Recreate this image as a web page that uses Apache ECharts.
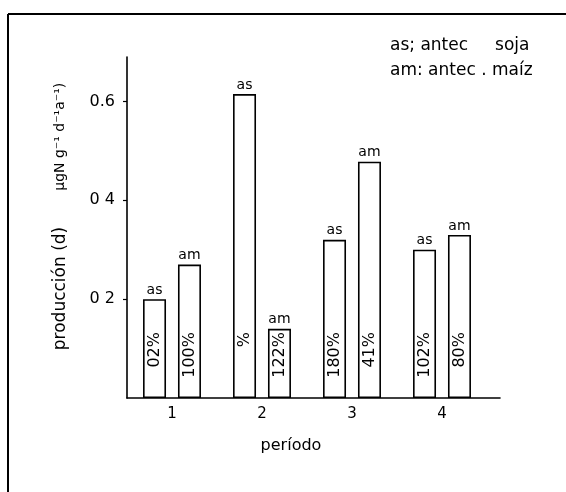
<!DOCTYPE html>
<html>
<head>
<meta charset="utf-8">
<script src="https://cdn.jsdelivr.net/npm/echarts@6/dist/echarts.min.js"></script>
<style>
html,body{margin:0;padding:0;background:#fff;}
#c{width:566px;height:492px;}
</style>
</head>
<body>
<div id="c"></div>
<script>
const categories = ['1', '2', '3', '4'];
const asValues = [0.20, 0.615, 0.32, 0.30];
const amValues = [0.27, 0.14, 0.478, 0.33];
const asPctLabels = ['02%', '%', '180%', '102%'];
const amPctLabels = ['100%', '122%', '41%', '80%'];
const asTag = 'as';
const amTag = 'am';
const yTickValues = [0.2, 0.4, 0.6];
const yTickLabels = ['0 2', '0 4', '0.6'];
const legendLines = ['as; antec     soja', 'am: antec . maíz'];
const xTitle = 'período';
const yTitle = 'producción (d)';
const yUnit = 'µgN g⁻¹ d⁻¹a⁻¹)';

const FONT = 'DejaVu Sans';
const chart = echarts.init(document.getElementById('c'), null, {renderer: 'canvas'});

function barSeries(name, values, pctLabels, stack) {
  return {
    name: name, type: 'bar', stack: stack, xAxisIndex: 0, yAxisIndex: 0,
    barWidth: 23, barGap: '52%',
    data: values,
    itemStyle: {color: '#fff', borderColor: '#000', borderWidth: 1.6},
    label: {
      show: true, position: 'insideBottom', distance: 66, rotate: 90,
      align: 'right', verticalAlign: 'middle',
      formatter: p => pctLabels[p.dataIndex],
      fontFamily: FONT, fontSize: 16, color: '#000'
    },
    silent: true
  };
}
function tagSeries(name, values, tag, stack) {
  return {
    name: name + '-tag', type: 'bar', stack: stack, xAxisIndex: 0, yAxisIndex: 0,
    barWidth: 23, barGap: '52%',
    data: values.map(() => 0),
    itemStyle: {color: 'rgba(0,0,0,0)', borderWidth: 0},
    label: {
      show: true, position: 'top', distance: 2,
      formatter: () => tag,
      fontFamily: FONT, fontSize: 14, color: '#000'
    },
    silent: true
  };
}

const option = {
  animation: false,
  backgroundColor: '#fff',
  textStyle: {fontFamily: FONT, color: '#000'},
  title: {
    text: legendLines.join('\n'),
    left: 385, top: 28,
    textStyle: {fontFamily: FONT, fontSize: 17, fontWeight: 'normal', color: '#000', lineHeight: 25}
  },
  grid: [
    {left: 127, top: 57, width: 360, bottom: 94},
    {left: 127, top: 57, width: 373, bottom: 94}
  ],
  xAxis: [
    {
      type: 'category', gridIndex: 0, data: categories,
      axisLine: {show: false},
      axisTick: {show: false},
      axisLabel: {fontFamily: FONT, fontSize: 15, color: '#000', margin: 9},
      name: xTitle, nameLocation: 'middle', nameGap: 40,
      nameTextStyle: {fontFamily: FONT, fontSize: 16, color: '#000', padding: [0, 32, 0, 0]}
    },
    {
      type: 'value', gridIndex: 1, min: 0, max: 1,
      axisLine: {show: true, lineStyle: {color: '#000', width: 1.6}},
      axisTick: {show: false}, axisLabel: {show: false}, splitLine: {show: false}
    }
  ],
  yAxis: [
    {
      type: 'value', gridIndex: 0, min: 0, max: 0.69, interval: 0.2,
      axisLine: {show: true, onZero: false, lineStyle: {color: '#000', width: 1.6}},
      axisTick: {show: true, length: 4, customValues: yTickValues, lineStyle: {color: '#000', width: 1.2}},
      axisLabel: {
        fontFamily: FONT, fontSize: 16, color: '#000', margin: 12,
        customValues: yTickValues,
        formatter: v => {
          const i = yTickValues.findIndex(t => Math.abs(t - v) < 1e-9);
          return i >= 0 ? yTickLabels[i] : '';
        }
      },
      splitLine: {show: false},
      name: '{a|' + yTitle + '}{b|' + yUnit + '}',
      nameLocation: 'middle', nameRotate: 90, nameGap: 58,
      nameTextStyle: {
        padding: [0, 0, 0, 22],
        rich: {
          a: {fontFamily: FONT, fontSize: 17, color: '#000'},
          b: {fontFamily: FONT, fontSize: 14, color: '#000', padding: [0, 0, 0, 36]}
        }
      }
    },
    {
      type: 'value', gridIndex: 1, show: false, min: 0, max: 1
    }
  ],
  graphic: [
    {type: 'line', shape: {x1: 8, y1: 14, x2: 566, y2: 14}, style: {stroke: '#000', lineWidth: 2}, silent: true},
    {type: 'line', shape: {x1: 8, y1: 14, x2: 8, y2: 492}, style: {stroke: '#000', lineWidth: 2}, silent: true}
  ],
  series: [
    barSeries('as', asValues, asPctLabels, 'as'),
    tagSeries('as', asValues, asTag, 'as'),
    barSeries('am', amValues, amPctLabels, 'am'),
    tagSeries('am', amValues, amTag, 'am')
  ]
};
chart.setOption(option);
</script>
</body>
</html>
